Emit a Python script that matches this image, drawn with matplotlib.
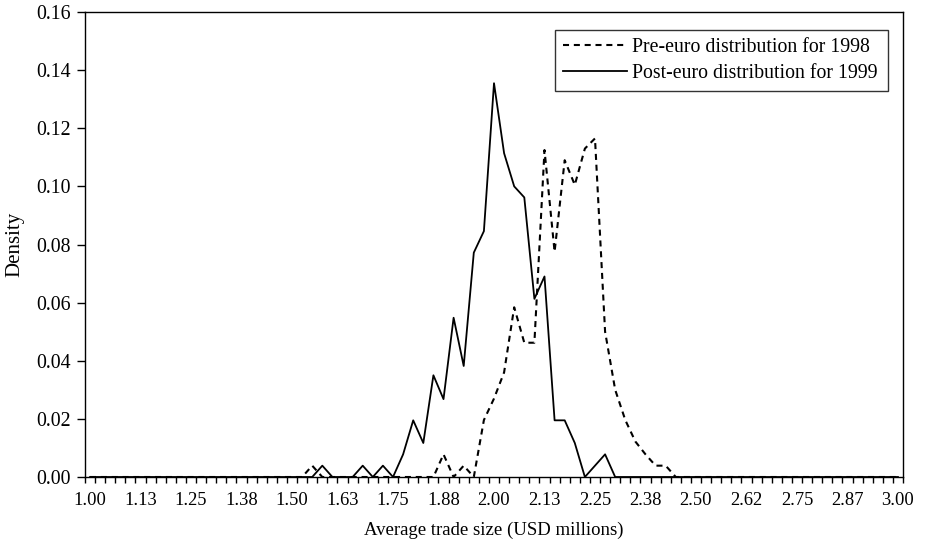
import matplotlib
matplotlib.use("Agg")
import matplotlib.pyplot as plt
import numpy as np
from matplotlib.ticker import FixedLocator, NullFormatter

plt.rcParams['font.family'] = ['Liberation Serif', 'DejaVu Serif']

# Categories: average trade size 1.00 .. 3.00 step 0.025 (81 categories)
categories = [round(1.0 + 0.025 * i, 3) for i in range(81)]
tick_labels = ["1.00", "1.13", "1.25", "1.38", "1.50", "1.63", "1.75", "1.88", "2.00",
               "2.13", "2.25", "2.38", "2.50", "2.62", "2.75", "2.87", "3.00"]

# Pre-euro distribution for 1998 (dashed)
pre_euro_idx = [22, 35, 37, 39, 40, 41, 42, 43, 44, 45, 46, 47, 48, 49, 50,
                51, 52, 53, 54, 55, 56, 57]
pre_euro_val = [0.0039, 0.0078, 0.0039, 0.0196, 0.0270, 0.0360, 0.0584, 0.0462, 0.0462,
                0.1125, 0.0775, 0.1090, 0.1005, 0.1130, 0.1165,
                0.0500, 0.0300, 0.0196, 0.0122, 0.0078, 0.0039, 0.0039]

# Post-euro distribution for 1999 (solid)
post_euro_idx = [23, 27, 29, 31, 32, 33, 34, 35, 36, 37, 38, 39, 40, 41, 42, 43,
                 44, 45, 46, 47, 48, 50, 51]
post_euro_val = [0.0039, 0.0039, 0.0039, 0.0078, 0.0195, 0.0117, 0.0350, 0.0268,
                 0.0548, 0.0382, 0.0772, 0.0846, 0.1355, 0.1114, 0.1000, 0.0962,
                 0.0613, 0.0690, 0.0195, 0.0195, 0.0117, 0.0039, 0.0078]

pre = np.zeros(len(categories))
pre[pre_euro_idx] = pre_euro_val
post = np.zeros(len(categories))
post[post_euro_idx] = post_euro_val

fig = plt.figure(figsize=(9.25, 5.43), dpi=100)
ax = fig.add_axes([85 / 925, 66 / 543, 818 / 925, 465 / 543])

x = np.arange(len(categories))
ax.plot(x, pre, color='black', lw=1.5, dashes=(2.9, 2.3),
        label='Pre-euro distribution for 1998')
ax.plot(x, post, color='black', lw=1.3, label='Post-euro distribution for 1999')

ax.set_xlim(-0.5, len(categories) - 0.5)
ax.set_ylim(0, 0.16)

# x-axis: tick marks between categories, labels at every 5th category
ax.xaxis.set_major_locator(FixedLocator(np.arange(-0.5, len(categories), 1.0)))
ax.xaxis.set_major_formatter(NullFormatter())
ax.xaxis.set_minor_locator(FixedLocator(np.arange(0, len(categories), 5)))
ax.set_xticklabels(tick_labels, minor=True)
ax.tick_params(axis='x', which='major', direction='out', length=4.5, width=1, color='black')
ax.tick_params(axis='x', which='minor', length=0, pad=11, labelsize=13.3)

ax.set_yticks(np.arange(0, 0.161, 0.02))
ax.set_yticklabels([f"{v:.2f}" for v in np.arange(0, 0.161, 0.02)])
ax.tick_params(axis='y', direction='out', length=6, width=1, labelsize=14.3, pad=4)

for s in ax.spines.values():
    s.set_linewidth(1.0)
    s.set_color('black')

ax.set_xlabel('Average trade size (USD millions)', fontsize=13.5, labelpad=9)
ax.set_ylabel('Density', fontsize=15, labelpad=9)

leg = ax.legend(loc='upper left', bbox_to_anchor=(555 / 925, 1 - 30 / 543, 333 / 925, 0),
                bbox_transform=fig.transFigure, borderaxespad=0, frameon=True,
                mode='expand',
                fancybox=False, edgecolor='black', fontsize=14.3, handlelength=3.2,
                handletextpad=0.3, borderpad=0.4, labelspacing=0.35)
leg.get_frame().set_linewidth(1.0)

fig.savefig('out.png', dpi=100)
